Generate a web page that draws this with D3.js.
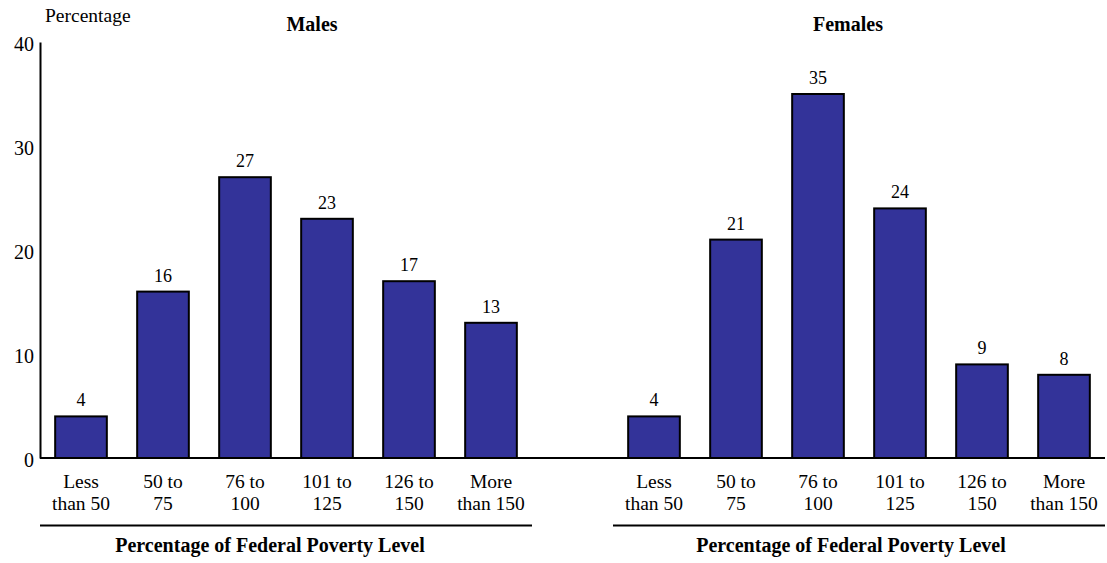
<!DOCTYPE html>
<html>
<head>
<meta charset="utf-8">
<script src="https://cdn.jsdelivr.net/npm/d3@7"></script>
<style>
  html, body { margin: 0; padding: 0; background: #fff; }
  svg { display: block; }
  svg text { fill: #000; }
</style>
</head>
<body>
<svg id="chart" width="1107" height="563"></svg>
<script>
// Income groups as a percentage of the federal poverty level
const categories = [["Less", "than 50"], ["50 to", "75"], ["76 to", "100"], ["101 to", "125"], ["126 to", "150"], ["More", "than 150"]];
const maleValues = [4, 16, 27, 23, 17, 13];
const femaleValues = [4, 21, 35, 24, 9, 8];
const yTicks = [0, 10, 20, 30, 40];
const panelTitles = ["Males", "Females"];
const axisTitle = "Percentage of Federal Poverty Level";
const yLabel = "Percentage";

const FONT = "Liberation Serif";
const svg = d3.select("#chart").attr("font-family", FONT);
const barColor = "#333399";

const y = d3.scaleLinear().domain([0, 40]).range([458, 42]);

const panels = [
  { title: panelTitles[0], values: maleValues, range: [40, 532], titleX: 312, footX: 270 },
  { title: panelTitles[1], values: femaleValues, range: [613, 1105], titleX: 848, footX: 851 }
];

const keys = categories.map((c, i) => i);

// Value axis: plain line with labels, no tick marks
const yAxis = svg.append("g")
  .attr("transform", "translate(40,0)")
  .call(d3.axisLeft(y).tickValues(yTicks).tickSize(0).tickSizeOuter(0).tickPadding(6));
yAxis.attr("font-family", FONT).attr("font-size", 20);
yAxis.select(".domain").attr("stroke", "#000").attr("stroke-width", 2);
yAxis.selectAll("text")
  .attr("font-family", FONT)
  .attr("font-size", 20)
  .attr("dy", "0.42em");

svg.append("text")
  .attr("x", 45).attr("y", 22)
  .attr("font-family", FONT)
  .attr("font-size", 19.5)
  .text(yLabel);

panels.forEach(p => {
  const x = d3.scaleBand().domain(keys).range(p.range).paddingInner(0.37).paddingOuter(0.185);
  const g = svg.append("g").attr("font-family", FONT);

  g.append("text")
    .attr("x", p.titleX).attr("y", 31)
    .attr("text-anchor", "middle")
    .attr("font-family", FONT)
    .attr("font-size", 20).attr("font-weight", "bold")
    .text(p.title);

  g.selectAll("rect.bar").data(p.values).join("rect")
    .attr("class", "bar")
    .attr("x", (d, i) => x(i))
    .attr("width", x.bandwidth())
    .attr("y", d => y(d))
    .attr("height", d => y(0) - y(d))
    .attr("fill", barColor)
    .attr("stroke", "#000")
    .attr("stroke-width", 2);

  g.selectAll("text.val").data(p.values).join("text")
    .attr("class", "val")
    .attr("x", (d, i) => x(i) + x.bandwidth() / 2)
    .attr("y", d => y(d) - 10)
    .attr("text-anchor", "middle")
    .attr("font-family", FONT)
    .attr("font-size", 18)
    .text(d => d);

  const lab = g.selectAll("text.cat").data(categories).join("text")
    .attr("class", "cat")
    .attr("text-anchor", "middle")
    .attr("font-family", FONT)
    .attr("font-size", 19.5);
  lab.append("tspan")
    .attr("x", (d, i) => x(i) + x.bandwidth() / 2)
    .attr("y", 488)
    .text(d => d[0]);
  lab.append("tspan")
    .attr("x", (d, i) => x(i) + x.bandwidth() / 2)
    .attr("y", 510)
    .text(d => d[1]);

  g.append("line")
    .attr("x1", p.range[0]).attr("x2", p.range[1])
    .attr("y1", 525.5).attr("y2", 525.5)
    .attr("stroke", "#000").attr("stroke-width", 2);

  g.append("text")
    .attr("x", p.footX).attr("y", 552)
    .attr("text-anchor", "middle")
    .attr("font-family", FONT)
    .attr("font-size", 20).attr("font-weight", "bold")
    .text(axisTitle);
});

// Zero baseline across both panels
svg.append("line")
  .attr("x1", 40).attr("x2", 1105)
  .attr("y1", y(0)).attr("y2", y(0))
  .attr("stroke", "#000").attr("stroke-width", 2);
</script>
</body>
</html>
